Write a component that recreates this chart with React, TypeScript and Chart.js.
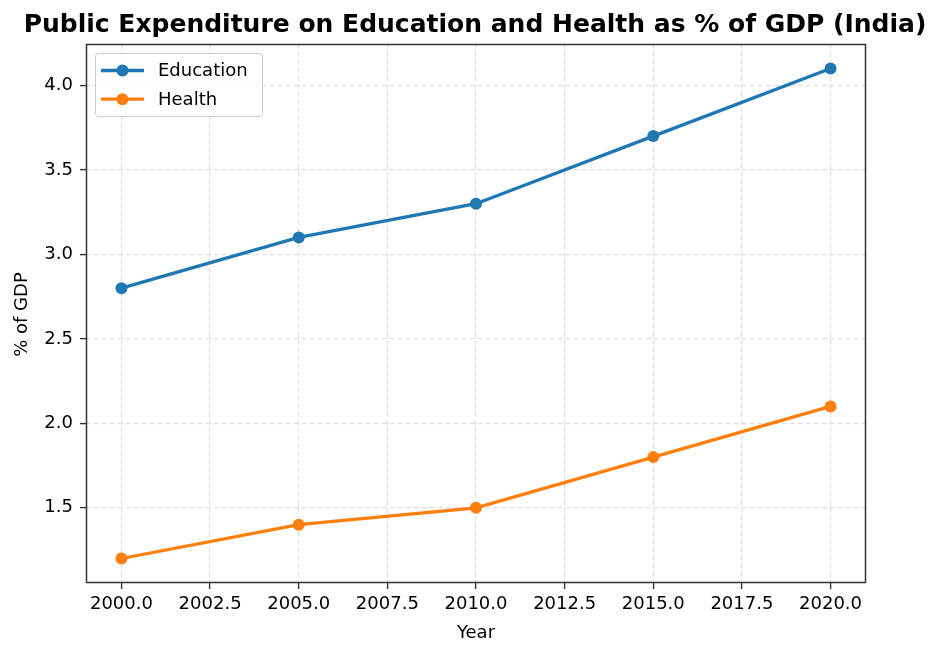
import React, { useEffect, useRef } from "react";
import { Chart, registerables } from "chart.js";

Chart.register(...registerables);

const years = [2000, 2005, 2010, 2015, 2020];
const education = [2.8, 3.1, 3.3, 3.7, 4.1];
const health = [1.2, 1.4, 1.5, 1.8, 2.1];
const xTicks = [2000, 2002.5, 2005, 2007.5, 2010, 2012.5, 2015, 2017.5, 2020];
const yTicks = [1.5, 2.0, 2.5, 3.0, 3.5, 4.0];
const seriesNames = ["Education", "Health"];
const colors = ["#1f77b4", "#ff7f0e"];
const titleText = "Public Expenditure on Education and Health as % of GDP (India)";
const xLabel = "Year";
const yLabel = "% of GDP";

const FONT = "'DejaVu Sans', sans-serif";

const decor = {
  id: "decor",
  afterDraw(chart: any) {
    const { ctx, chartArea } = chart;
    const { left, right, top, bottom } = chartArea;
    ctx.save();
    ctx.strokeStyle = "#333";
    ctx.lineWidth = 1.5;
    ctx.setLineDash([]);
    ctx.strokeRect(left + 0.5, top + 0.5, right - left - 1, bottom - top - 1);
    ctx.fillStyle = "#000";
    ctx.font = `bold 25px ${FONT}`;
    ctx.textAlign = "center";
    ctx.textBaseline = "alphabetic";
    ctx.fillText(titleText, 946 / 2 + 2, 32);
    ctx.font = `18px ${FONT}`;
    ctx.textBaseline = "middle";
    ctx.fillText(xLabel, (left + right) / 2, 633);
    ctx.translate(22, (top + bottom) / 2 + 1);
    ctx.rotate(-Math.PI / 2);
    ctx.fillText(yLabel, 0, 0);
    ctx.restore();
    ctx.save();
    const bx = 95, by = 53, bw = 167, bh = 63;
    ctx.fillStyle = "rgba(255,255,255,0.8)";
    ctx.strokeStyle = "#cccccc";
    ctx.lineWidth = 1;
    ctx.beginPath();
    (ctx as any).roundRect(bx + 0.5, by + 0.5, bw, bh, 3);
    ctx.fill();
    ctx.stroke();
    seriesNames.forEach((name, i) => {
      const cy = 70.5 + i * 28.7;
      ctx.strokeStyle = colors[i];
      ctx.lineWidth = 3.3;
      ctx.beginPath();
      ctx.moveTo(101, cy);
      ctx.lineTo(144, cy);
      ctx.stroke();
      ctx.fillStyle = colors[i];
      ctx.beginPath();
      ctx.arc(122.5, cy, 6, 0, Math.PI * 2);
      ctx.fill();
      ctx.fillStyle = "#000";
      ctx.font = `18px ${FONT}`;
      ctx.textAlign = "left";
      ctx.textBaseline = "middle";
      ctx.fillText(name, 158, cy + 1);
    });
    ctx.restore();
  },
};

export default function App() {
  const ref = useRef<HTMLCanvasElement>(null);
  useEffect(() => {
    document.body.style.margin = "0";
    const chart = new Chart(ref.current!, {
      type: "line",
      data: {
        datasets: [education, health].map((vals, i) => ({
          label: seriesNames[i],
          data: years.map((y, j) => ({ x: y, y: vals[j] })),
          borderColor: colors[i],
          backgroundColor: colors[i],
          borderWidth: 3.3,
          pointRadius: 6,
          pointBorderWidth: 0,
          pointBackgroundColor: colors[i],
          tension: 0,
        })),
      },
      options: {
        animation: false,
        responsive: false,
        devicePixelRatio: 1,
        layout: { padding: { left: 0, right: 80, top: 44, bottom: 0 } },
        plugins: { legend: { display: false }, title: { display: false }, tooltip: { enabled: false } },
        scales: {
          x: {
            type: "linear",
            min: 1999,
            max: 2021,
            afterBuildTicks: (s: any) => { s.ticks = xTicks.map((v) => ({ value: v })); },
            afterFit: (s: any) => { s.height = 74; },
            ticks: {
              color: "#000",
              font: { family: FONT, size: 18 },
              padding: 5,
              maxRotation: 0,
              autoSkip: false,
              callback: (v: any) => Number(v).toFixed(1),
            },
            grid: { color: "#dddddd", tickColor: "#333", tickLength: 6, tickBorderDash: [], lineWidth: 1.2, tickWidth: 1.4 },
            border: { display: false, dash: [5, 3] },
          },
          y: {
            type: "linear",
            min: 1.055,
            max: 4.245,
            afterBuildTicks: (s: any) => { s.ticks = yTicks.map((v) => ({ value: v })); },
            afterFit: (s: any) => { s.width = 86; },
            ticks: {
              color: "#000",
              font: { family: FONT, size: 18 },
              padding: 7,
              autoSkip: false,
              callback: (v: any) => Number(v).toFixed(1),
            },
            grid: { color: "#dddddd", tickColor: "#333", tickLength: 6, tickBorderDash: [], lineWidth: 1.2, tickWidth: 1.4 },
            border: { display: false, dash: [5, 3] },
          },
        },
      },
      plugins: [decor],
    });
    return () => chart.destroy();
  }, []);
  return (
    <div style={{ width: 946, height: 657 }}>
      <canvas ref={ref} width={946} height={657} style={{ display: "block" }} />
    </div>
  );
}
